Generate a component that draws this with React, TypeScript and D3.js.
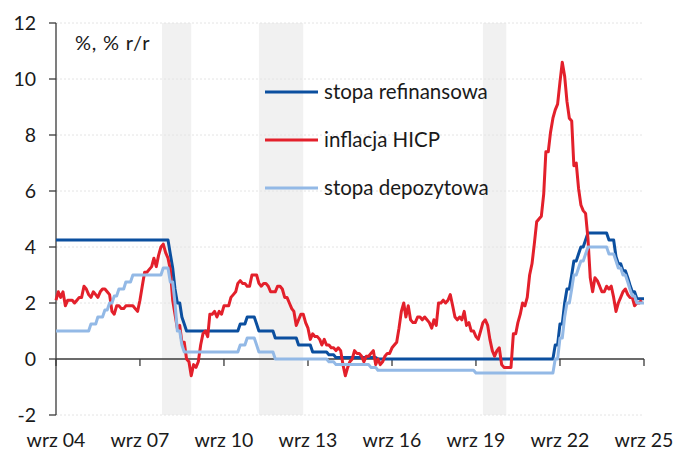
import React from "react";
import * as d3 from "d3";

// Monthly data, first month = Sep 2004
const startMonth = "2004-09";

// ECB main refinancing rate (%), Sep 2004 – Sep 2025
const refiRate: number[] = [
  4.25, 4.25, 4.25, 4.25,
  4.25, 4.25, 4.25, 4.25, 4.25, 4.25, 4.25, 4.25, 4.25, 4.25, 4.25, 4.25,
  4.25, 4.25, 4.25, 4.25, 4.25, 4.25, 4.25, 4.25, 4.25, 4.25, 4.25, 4.25,
  4.25, 4.25, 4.25, 4.25, 4.25, 4.25, 4.25, 4.25, 4.25, 4.25, 4.25, 4.25,
  4.25, 4.25, 4.25, 4.25, 4.25, 4.25, 4.25, 4.25, 4.25, 3.75, 3.25, 2.5,
  2.0, 2.0, 1.5, 1.25, 1.0, 1.0, 1.0, 1.0, 1.0, 1.0, 1.0, 1.0,
  1.0, 1.0, 1.0, 1.0, 1.0, 1.0, 1.0, 1.0, 1.0, 1.0, 1.0, 1.0,
  1.0, 1.0, 1.0, 1.25, 1.25, 1.25, 1.5, 1.5, 1.5, 1.5, 1.25, 1.0,
  1.0, 1.0, 1.0, 1.0, 1.0, 1.0, 0.75, 0.75, 0.75, 0.75, 0.75, 0.75,
  0.75, 0.75, 0.75, 0.75, 0.5, 0.5, 0.5, 0.5, 0.5, 0.5, 0.25, 0.25,
  0.25, 0.25, 0.25, 0.25, 0.25, 0.15, 0.15, 0.15, 0.05, 0.05, 0.05, 0.05,
  0.05, 0.05, 0.05, 0.05, 0.05, 0.05, 0.05, 0.05, 0.05, 0.05, 0.05, 0.05,
  0.05, 0.05, 0, 0, 0, 0, 0, 0, 0, 0, 0, 0,
  0, 0, 0, 0, 0, 0, 0, 0, 0, 0, 0, 0,
  0, 0, 0, 0, 0, 0, 0, 0, 0, 0, 0, 0,
  0, 0, 0, 0, 0, 0, 0, 0, 0, 0, 0, 0,
  0, 0, 0, 0, 0, 0, 0, 0, 0, 0, 0, 0,
  0, 0, 0, 0, 0, 0, 0, 0, 0, 0, 0, 0,
  0, 0, 0, 0, 0, 0, 0.5, 0.5, 1.25, 1.25, 2.0, 2.5,
  2.5, 3.0, 3.5, 3.5, 3.75, 4.0, 4.0, 4.25, 4.5, 4.5, 4.5, 4.5,
  4.5, 4.5, 4.5, 4.5, 4.5, 4.25, 4.25, 4.25, 3.65, 3.4, 3.4, 3.15,
  3.15, 2.9, 2.65, 2.4, 2.4, 2.15, 2.15, 2.15, 2.15,
];

// Euro area HICP inflation (% y/y), Sep 2004 – Aug 2025
const hicp: number[] = [
  2.1, 2.4, 2.2, 2.4,
  1.9, 2.1, 2.1, 2.1, 2.0, 2.1, 2.2, 2.2, 2.6, 2.5, 2.3, 2.2,
  2.4, 2.3, 2.2, 2.4, 2.5, 2.5, 2.4, 2.3, 1.7, 1.6, 1.9, 1.9,
  1.8, 1.8, 1.9, 1.9, 1.9, 1.9, 1.8, 1.7, 2.1, 2.6, 3.1, 3.1,
  3.2, 3.3, 3.6, 3.3, 3.7, 4.0, 4.1, 3.8, 3.6, 3.2, 2.1, 1.6,
  1.1, 1.2, 0.6, 0.6, 0.0, -0.1, -0.6, -0.2, -0.3, -0.1, 0.5, 0.9,
  1.0, 0.8, 1.6, 1.6, 1.7, 1.5, 1.7, 1.6, 1.9, 1.9, 1.9, 2.2,
  2.3, 2.4, 2.7, 2.8, 2.7, 2.7, 2.6, 2.6, 3.0, 3.0, 3.0, 2.7,
  2.6, 2.7, 2.7, 2.6, 2.4, 2.4, 2.4, 2.6, 2.6, 2.5, 2.2, 2.2,
  2.0, 1.8, 1.7, 1.2, 1.4, 1.6, 1.6, 1.3, 1.1, 0.7, 0.9, 0.8,
  0.8, 0.7, 0.5, 0.7, 0.5, 0.5, 0.4, 0.4, 0.3, 0.4, 0.3, -0.2,
  -0.6, -0.3, -0.1, 0.0, 0.3, 0.2, 0.2, 0.1, -0.1, 0.1, 0.1, 0.2,
  0.3, -0.2, 0.0, -0.2, -0.1, 0.1, 0.2, 0.2, 0.4, 0.5, 0.6, 1.1,
  1.7, 2.0, 1.5, 1.9, 1.4, 1.3, 1.3, 1.5, 1.5, 1.4, 1.5, 1.4,
  1.3, 1.1, 1.4, 1.2, 2.0, 2.0, 2.1, 2.0, 2.1, 2.3, 1.9, 1.5,
  1.4, 1.5, 1.4, 1.7, 1.2, 1.3, 1.0, 1.0, 0.8, 0.7, 1.0, 1.3,
  1.4, 1.2, 0.7, 0.3, 0.1, 0.3, 0.4, -0.2, -0.3, -0.3, -0.3, -0.3,
  0.9, 0.9, 1.3, 1.6, 2.0, 1.9, 2.2, 3.0, 3.4, 4.1, 4.9, 5.0,
  5.1, 5.9, 7.4, 7.4, 8.1, 8.6, 8.9, 9.1, 9.9, 10.6, 10.1, 9.2,
  8.6, 8.5, 6.9, 7.0, 6.1, 5.5, 5.3, 5.2, 4.3, 2.9, 2.4, 2.9,
  2.8, 2.6, 2.4, 2.4, 2.6, 2.5, 2.6, 2.2, 1.7, 2.0, 2.2, 2.4,
  2.5, 2.3, 2.2, 2.2, 1.9, 2.0, 2.0, 2.1,
];

// ECB deposit facility rate (%), Sep 2004 – Sep 2025
const depoRate: number[] = [
  1.0, 1.0, 1.0, 1.0,
  1.0, 1.0, 1.0, 1.0, 1.0, 1.0, 1.0, 1.0, 1.0, 1.0, 1.0, 1.25,
  1.25, 1.25, 1.5, 1.5, 1.5, 1.75, 1.75, 2.0, 2.0, 2.25, 2.25, 2.5,
  2.5, 2.5, 2.75, 2.75, 2.75, 3.0, 3.0, 3.0, 3.0, 3.0, 3.0, 3.0,
  3.0, 3.0, 3.0, 3.0, 3.0, 3.0, 3.25, 3.25, 3.25, 2.75, 2.75, 2.0,
  1.0, 1.0, 0.5, 0.25, 0.25, 0.25, 0.25, 0.25, 0.25, 0.25, 0.25, 0.25,
  0.25, 0.25, 0.25, 0.25, 0.25, 0.25, 0.25, 0.25, 0.25, 0.25, 0.25, 0.25,
  0.25, 0.25, 0.25, 0.5, 0.5, 0.5, 0.75, 0.75, 0.75, 0.75, 0.5, 0.25,
  0.25, 0.25, 0.25, 0.25, 0.25, 0.25, 0, 0, 0, 0, 0, 0,
  0, 0, 0, 0, 0, 0, 0, 0, 0, 0, 0, 0,
  0, 0, 0, 0, 0, -0.1, -0.1, -0.1, -0.2, -0.2, -0.2, -0.2,
  -0.2, -0.2, -0.2, -0.2, -0.2, -0.2, -0.2, -0.2, -0.2, -0.2, -0.2, -0.3,
  -0.3, -0.3, -0.4, -0.4, -0.4, -0.4, -0.4, -0.4, -0.4, -0.4, -0.4, -0.4,
  -0.4, -0.4, -0.4, -0.4, -0.4, -0.4, -0.4, -0.4, -0.4, -0.4, -0.4, -0.4,
  -0.4, -0.4, -0.4, -0.4, -0.4, -0.4, -0.4, -0.4, -0.4, -0.4, -0.4, -0.4,
  -0.4, -0.4, -0.4, -0.4, -0.4, -0.4, -0.4, -0.4, -0.5, -0.5, -0.5, -0.5,
  -0.5, -0.5, -0.5, -0.5, -0.5, -0.5, -0.5, -0.5, -0.5, -0.5, -0.5, -0.5,
  -0.5, -0.5, -0.5, -0.5, -0.5, -0.5, -0.5, -0.5, -0.5, -0.5, -0.5, -0.5,
  -0.5, -0.5, -0.5, -0.5, -0.5, -0.5, 0, 0, 0.75, 0.75, 1.5, 2.0,
  2.0, 2.5, 3.0, 3.0, 3.25, 3.5, 3.5, 3.75, 4.0, 4.0, 4.0, 4.0,
  4.0, 4.0, 4.0, 4.0, 4.0, 3.75, 3.75, 3.75, 3.5, 3.25, 3.25, 3.0,
  3.0, 2.75, 2.5, 2.25, 2.25, 2.0, 2.0, 2.0, 2.0,
];

// Shaded periods (euro area recessions)
const shadeStarts = ["2008-06-15", "2011-12-01", "2019-12-01"];
const shadeEnds = ["2009-07-01", "2013-07-01", "2020-10-01"];

const xTickLabels = ["wrz 04", "wrz 07", "wrz 10", "wrz 13", "wrz 16", "wrz 19", "wrz 22", "wrz 25"];
const xTickDates = ["2004-09-01", "2007-09-01", "2010-09-01", "2013-09-01", "2016-09-01", "2019-09-01", "2022-09-01", "2025-09-01"];
const yTicks = [-2, 0, 2, 4, 6, 8, 10, 12];

const seriesNames = ["stopa refinansowa", "inflacja HICP", "stopa depozytowa"];
const seriesColors = ["#0b4f9f", "#e3202b", "#93b9e6"];

const W = 675;
const H = 450;
const FONT = "Lato, 'Open Sans', sans-serif";

const parseDay = d3.timeParse("%Y-%m-%d");
const parseMonth = d3.timeParse("%Y-%m");

export default function App() {
  const x = d3
    .scaleTime()
    .domain([parseDay("2004-09-01")!, parseDay("2025-09-01")!])
    .range([56, 644]);
  const y = d3.scaleLinear().domain([-2, 12]).range([415, 23]);

  const start = parseMonth(startMonth)!;
  const toPoints = (arr: number[]) =>
    arr.map((v, i) => ({ date: d3.timeMonth.offset(start, i), v }));

  const line = d3
    .line<{ date: Date; v: number }>()
    .x((d) => x(d.date))
    .y((d) => y(d.v));

  const allSeries = [refiRate, hicp, depoRate];
  const x0 = x.range()[0];
  const x1 = x.range()[1];

  return (
    <svg
      width={W}
      height={H}
      style={{ position: "absolute", left: 0, top: 0, background: "#fff" }}
      fontFamily={FONT}
    >
      {/* shaded periods */}
      {shadeStarts.map((s, i) => (
        <rect
          key={"sh" + i}
          x={x(parseDay(s)!)}
          y={y(12)}
          width={x(parseDay(shadeEnds[i])!) - x(parseDay(s)!)}
          height={y(-2) - y(12)}
          fill="#f1f1f1"
        />
      ))}
      {/* gridlines */}
      {yTicks
        .filter((t) => t !== 0)
        .map((t) => (
          <line
            key={"g" + t}
            x1={x0}
            x2={x1}
            y1={y(t)}
            y2={y(t)}
            stroke="#e4e4e4"
            strokeWidth={1}
            strokeDasharray="2,2"
          />
        ))}
      {/* y axis */}
      <line x1={x0} x2={x0} y1={y(12)} y2={y(-2)} stroke="#3a3a3a" strokeWidth={1.3} />
      {yTicks.map((t) => (
        <g key={"yt" + t}>
          <line x1={x0 - 7} x2={x0} y1={y(t)} y2={y(t)} stroke="#3a3a3a" strokeWidth={1.3} />
          <text x={36} y={y(t) + 7} textAnchor="end" fontSize={19.5} fill="#1a1a1a">
            {t}
          </text>
        </g>
      ))}
      {/* zero axis */}
      <line x1={x0} x2={x1} y1={y(0)} y2={y(0)} stroke="#3a3a3a" strokeWidth={1.3} />
      {xTickDates.map((d, i) => {
        const xp = x(parseDay(d)!);
        return (
          <g key={"xt" + i}>
            <line x1={xp} x2={xp} y1={y(0)} y2={y(0) + 7} stroke="#3a3a3a" strokeWidth={1.3} />
            <text x={xp} y={447} textAnchor="middle" fontSize={19.5} fill="#1a1a1a">
              {xTickLabels[i]}
            </text>
          </g>
        );
      })}
      {/* series */}
      {allSeries.map((arr, i) => (
        <path
          key={"s" + i}
          d={line(toPoints(arr)) || ""}
          fill="none"
          stroke={seriesColors[i]}
          strokeWidth={3}
          strokeLinejoin="round"
        />
      ))}
      {/* unit label */}
      <text x={75} y={50} fontSize={20} letterSpacing={0.8} fill="#1a1a1a">
        %, % r/r
      </text>
      {/* legend */}
      {seriesNames.map((n, i) => {
        const ly = 92 + i * 48;
        return (
          <g key={"lg" + i}>
            <line x1={265} x2={318} y1={ly} y2={ly} stroke={seriesColors[i]} strokeWidth={3} />
            <text x={324} y={ly + 6.5} fontSize={20.5} fill="#1a1a1a">
              {n}
            </text>
          </g>
        );
      })}
    </svg>
  );
}
